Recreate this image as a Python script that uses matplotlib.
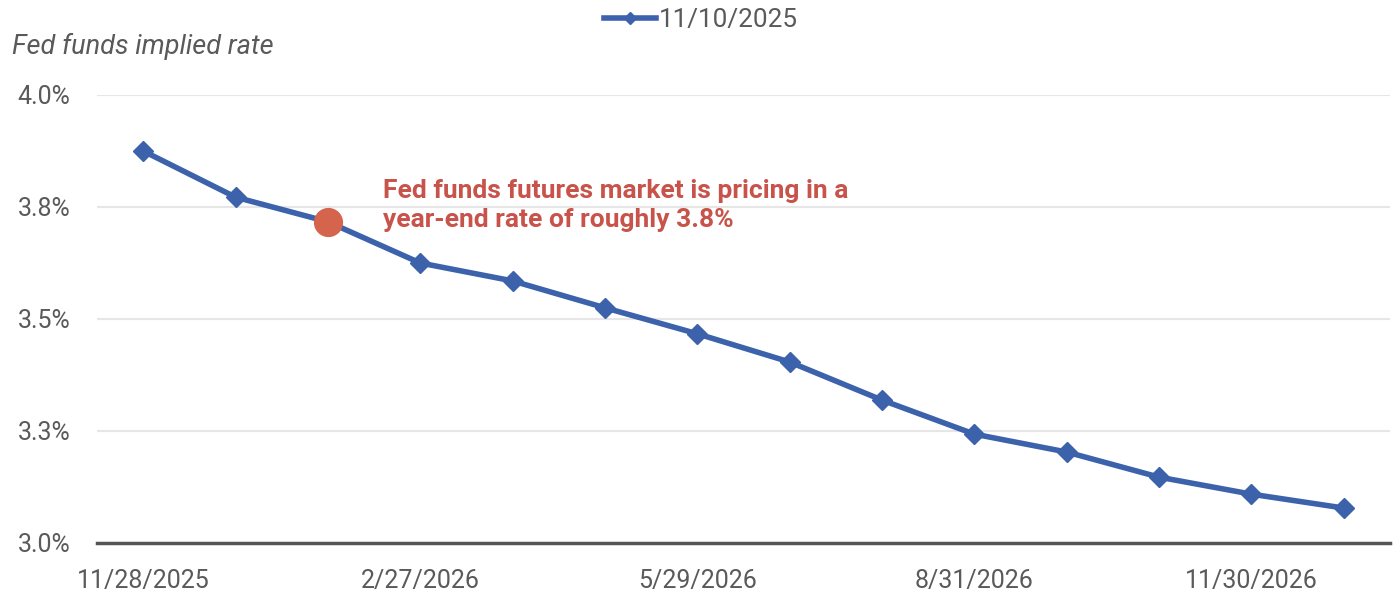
import matplotlib.pyplot as plt
from matplotlib.ticker import FuncFormatter

# data
dates = ["11/28/2025", "12/31/2025", "1/30/2026", "2/27/2026", "3/31/2026",
         "4/30/2026", "5/29/2026", "6/30/2026", "7/31/2026", "8/31/2026",
         "9/30/2026", "10/30/2026", "11/30/2026", "12/31/2026"]
rates = [3.875, 3.772, 3.717, 3.625, 3.585, 3.525, 3.467,
         3.404, 3.319, 3.243, 3.203, 3.147, 3.109, 3.078]
series_name = "11/10/2025"
yticks = [3.0, 3.25, 3.5, 3.75, 4.0]
xtick_idx = [0, 3, 6, 9, 12]
note_idx = 2
note = "Fed funds futures market is pricing in a\nyear-end rate of roughly 3.8%"

plt.rcParams['font.family'] = ['Roboto', 'DejaVu Sans']
blue = "#3b62ab"
red = "#d5644c"
grey = "#5a5a5a"

fig = plt.figure(figsize=(13.94, 5.92), dpi=100)
ax = fig.add_axes([97 / 1394, 1 - 543 / 592, (1390 - 97) / 1394, (543 - 95) / 592])

x = list(range(len(dates)))
ax.plot(x, rates, color=blue, lw=4, marker="D", ms=10, label=series_name,
        clip_on=False, zorder=3)
ax.plot(note_idx, rates[note_idx], "o", color=red, ms=20, zorder=4, clip_on=False)
ax.text(note_idx + 0.6, rates[note_idx] + 0.037, note, color="#c8534a",
        fontsize=19, fontweight="semibold", va="center", ha="left",
        linespacing=1.25)

ax.set_xlim(-0.5, 13.5)
ax.set_ylim(3.0, 4.0)
ax.set_yticks(yticks)
# round half up, so 3.25 shows as 3.3% like the original
ax.yaxis.set_major_formatter(FuncFormatter(lambda v, p: f"{v + 1e-9:.1f}%"))
ax.set_xticks(xtick_idx)
ax.set_xticklabels([dates[i] for i in xtick_idx])
ax.tick_params(axis="both", length=0, labelsize=18, colors=grey)
ax.tick_params(axis="x", pad=19)
ax.tick_params(axis="y", pad=19)

ax.grid(axis="y", color="#e6e6e6", lw=1.5)
ax.set_axisbelow(True)
for s in ["top", "right", "left"]:
    ax.spines[s].set_visible(False)
ax.spines["bottom"].set_color("#555555")
ax.spines["bottom"].set_linewidth(2.5)

fig.text(12 / 1394, 1 - 46 / 592, "Fed funds implied rate", fontsize=19.5,
         style="italic", color=grey, va="center")
fig.legend(loc="center", bbox_to_anchor=(701 / 1394, 1 - 20 / 592), frameon=False,
           fontsize=18.8, handlelength=2.0, handletextpad=0.1, labelcolor=grey,
           markerscale=0.6)

fig.savefig("out.png", dpi=100)
